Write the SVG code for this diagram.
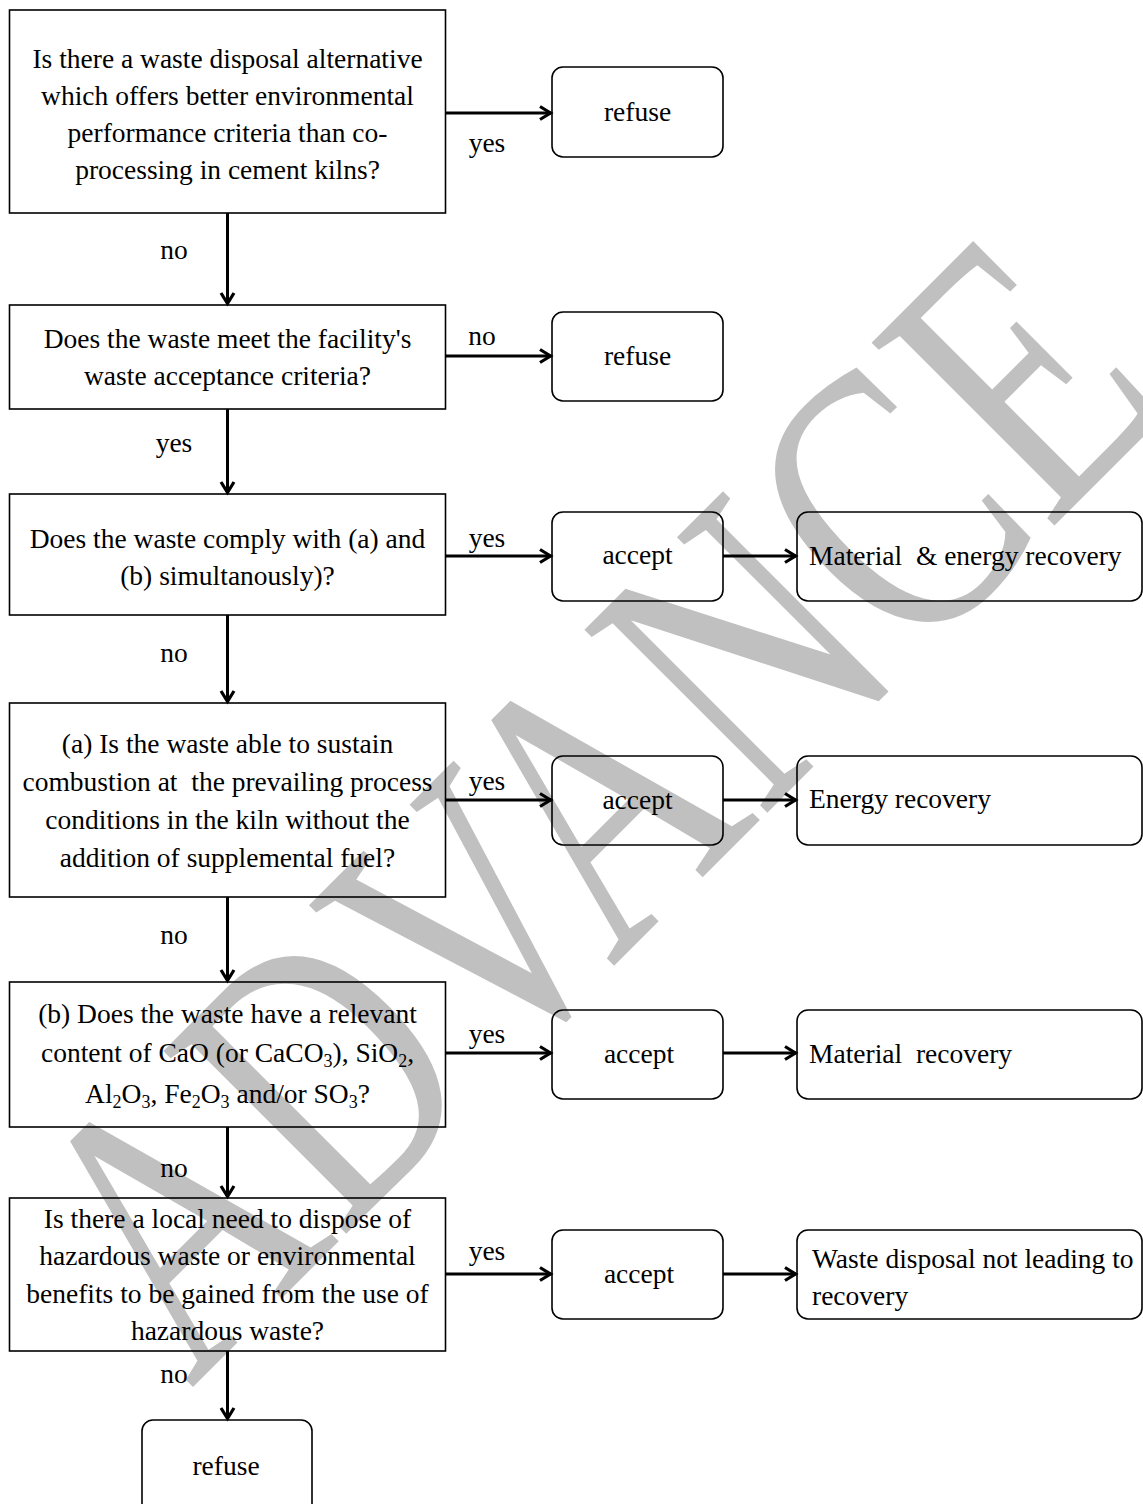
<svg xmlns="http://www.w3.org/2000/svg" width="1143" height="1504" viewBox="0 0 1143 1504">
<style>
  .bg { fill: #ffffff; }
  .wm { fill: #c0c0c0; font-family: "Liberation Serif", "Times New Roman", serif; font-size: 395px; }
  .q { fill: none; stroke: #000; stroke-width: 1.6; }
  .r { fill: none; stroke: #000; stroke-width: 1.6; }
  .t { font-family: "Liberation Serif", "Times New Roman", serif; font-size: 27.5px; fill: #000; }
  .c { text-anchor: middle; }
  .conn { stroke: #000; stroke-width: 3; fill: none; marker-end: url(#ah); }
  .sub { font-size: 18px; }
</style>
<defs>
  <marker id="ah" markerUnits="userSpaceOnUse" markerWidth="16" markerHeight="18" refX="13" refY="8" orient="auto">
    <path d="M2,1.5 L12.5,8 L2,14.5" fill="none" stroke="#000" stroke-width="3.2" stroke-linejoin="miter"/>
  </marker>
</defs>
<rect class="bg" x="0" y="0" width="1143" height="1504"/>
<text class="wm" transform="translate(191,1389) rotate(-45) scale(0.74,1)">ADVANCE</text>

<g id="connectors">
  <line class="conn" x1="446" y1="113" x2="551" y2="113"/>
  <line class="conn" x1="446" y1="356" x2="551" y2="356"/>
  <line class="conn" x1="446" y1="556" x2="551" y2="556"/>
  <line class="conn" x1="723" y1="556" x2="796" y2="556"/>
  <line class="conn" x1="446" y1="800" x2="551" y2="800"/>
  <line class="conn" x1="723" y1="800" x2="796" y2="800"/>
  <line class="conn" x1="446" y1="1053" x2="551" y2="1053"/>
  <line class="conn" x1="723" y1="1053" x2="796" y2="1053"/>
  <line class="conn" x1="446" y1="1274" x2="551" y2="1274"/>
  <line class="conn" x1="723" y1="1274" x2="796" y2="1274"/>
  <line class="conn" x1="227.5" y1="213" x2="227.5" y2="304"/>
  <line class="conn" x1="227.5" y1="409" x2="227.5" y2="493"/>
  <line class="conn" x1="227.5" y1="615" x2="227.5" y2="702"/>
  <line class="conn" x1="227.5" y1="897" x2="227.5" y2="981"/>
  <line class="conn" x1="227.5" y1="1127" x2="227.5" y2="1197"/>
  <line class="conn" x1="227.5" y1="1351" x2="227.5" y2="1419"/>
  <text class="t c" x="487" y="152">yes</text>
  <text class="t c" x="482" y="345">no</text>
  <text class="t c" x="487" y="547">yes</text>
  <text class="t c" x="487" y="790">yes</text>
  <text class="t c" x="487" y="1043">yes</text>
  <text class="t c" x="487" y="1260">yes</text>
  <text class="t c" x="174" y="259">no</text>
  <text class="t c" x="174" y="452">yes</text>
  <text class="t c" x="174" y="662">no</text>
  <text class="t c" x="174" y="944">no</text>
  <text class="t c" x="174" y="1177">no</text>
  <text class="t c" x="174" y="1383">no</text>
</g>

<g id="q1">
  <rect class="q" x="9.5" y="10" width="436" height="203"/>
  <text class="t c" x="227.5" y="68">Is there a waste disposal alternative</text>
  <text class="t c" x="227.5" y="105">which offers better environmental</text>
  <text class="t c" x="227.5" y="142">performance criteria than co-</text>
  <text class="t c" x="227.5" y="179">processing in cement kilns?</text>
</g>
<g id="refuse1">
  <rect class="r" x="552" y="67" width="171" height="90" rx="11"/>
  <text class="t c" x="637.5" y="121">refuse</text>
</g>

<g id="q2">
  <rect class="q" x="9.5" y="305" width="436" height="104"/>
  <text class="t c" x="227.5" y="348">Does the waste meet the facility's</text>
  <text class="t c" x="227.5" y="385">waste acceptance criteria?</text>
</g>
<g id="refuse2">
  <rect class="r" x="552" y="312" width="171" height="89" rx="11"/>
  <text class="t c" x="637.5" y="365">refuse</text>
</g>

<g id="q3">
  <rect class="q" x="9.5" y="494" width="436" height="121"/>
  <text class="t c" x="227.5" y="548">Does the waste comply with (a) and</text>
  <text class="t c" x="227.5" y="585">(b) simultanously)?</text>
</g>
<g id="accept3">
  <rect class="r" x="552" y="512" width="171" height="89" rx="11"/>
  <text class="t c" x="637.5" y="564">accept</text>
</g>
<g id="out3">
  <rect class="r" x="797" y="512" width="345" height="89" rx="11"/>
  <text class="t" x="809" y="565" xml:space="preserve">Material  &amp; energy recovery</text>
</g>

<g id="q4">
  <rect class="q" x="9.5" y="703" width="436" height="194"/>
  <text class="t c" x="227.5" y="753">(a) Is the waste able to sustain</text>
  <text class="t c" x="227.5" y="791" xml:space="preserve">combustion at  the prevailing process</text>
  <text class="t c" x="227.5" y="829">conditions in the kiln without the</text>
  <text class="t c" x="227.5" y="867">addition of supplemental fuel?</text>
</g>
<g id="accept4">
  <rect class="r" x="552" y="756" width="171" height="89" rx="11"/>
  <text class="t c" x="637.5" y="809">accept</text>
</g>
<g id="out4">
  <rect class="r" x="797" y="756" width="345" height="89" rx="11"/>
  <text class="t" x="809" y="808">Energy recovery</text>
</g>

<g id="q5">
  <rect class="q" x="9.5" y="982" width="436" height="145"/>
  <text class="t c" x="227.5" y="1023">(b) Does the waste have a relevant</text>
  <text class="t c" x="227.5" y="1062">content of CaO (or CaCO<tspan class="sub" dy="5">3</tspan><tspan dy="-5">), SiO</tspan><tspan class="sub" dy="5">2</tspan><tspan dy="-5">,</tspan></text>
  <text class="t c" x="227.5" y="1103">Al<tspan class="sub" dy="5">2</tspan><tspan dy="-5">O</tspan><tspan class="sub" dy="5">3</tspan><tspan dy="-5">, Fe</tspan><tspan class="sub" dy="5">2</tspan><tspan dy="-5">O</tspan><tspan class="sub" dy="5">3</tspan><tspan dy="-5"> and/or SO</tspan><tspan class="sub" dy="5">3</tspan><tspan dy="-5">?</tspan></text>
</g>
<g id="accept5">
  <rect class="r" x="552" y="1010" width="171" height="89" rx="11"/>
  <text class="t c" x="639" y="1063">accept</text>
</g>
<g id="out5">
  <rect class="r" x="797" y="1010" width="345" height="89" rx="11"/>
  <text class="t" x="809" y="1063" xml:space="preserve">Material  recovery</text>
</g>

<g id="q6">
  <rect class="q" x="9.5" y="1198" width="436" height="153"/>
  <text class="t c" x="227.5" y="1228">Is there a local need to dispose of</text>
  <text class="t c" x="227.5" y="1265">hazardous waste or environmental</text>
  <text class="t c" x="227.5" y="1303">benefits to be gained from the use of</text>
  <text class="t c" x="227.5" y="1340">hazardous waste?</text>
</g>
<g id="accept6">
  <rect class="r" x="552" y="1230" width="171" height="89" rx="11"/>
  <text class="t c" x="639" y="1283">accept</text>
</g>
<g id="out6">
  <rect class="r" x="797" y="1230" width="345" height="89" rx="11"/>
  <text class="t" x="812" y="1268">Waste disposal not leading to</text>
  <text class="t" x="812" y="1305">recovery</text>
</g>

<g id="refuse7">
  <rect class="r" x="142" y="1420" width="170" height="100" rx="11"/>
  <text class="t c" x="226" y="1475">refuse</text>
</g>
</svg>
